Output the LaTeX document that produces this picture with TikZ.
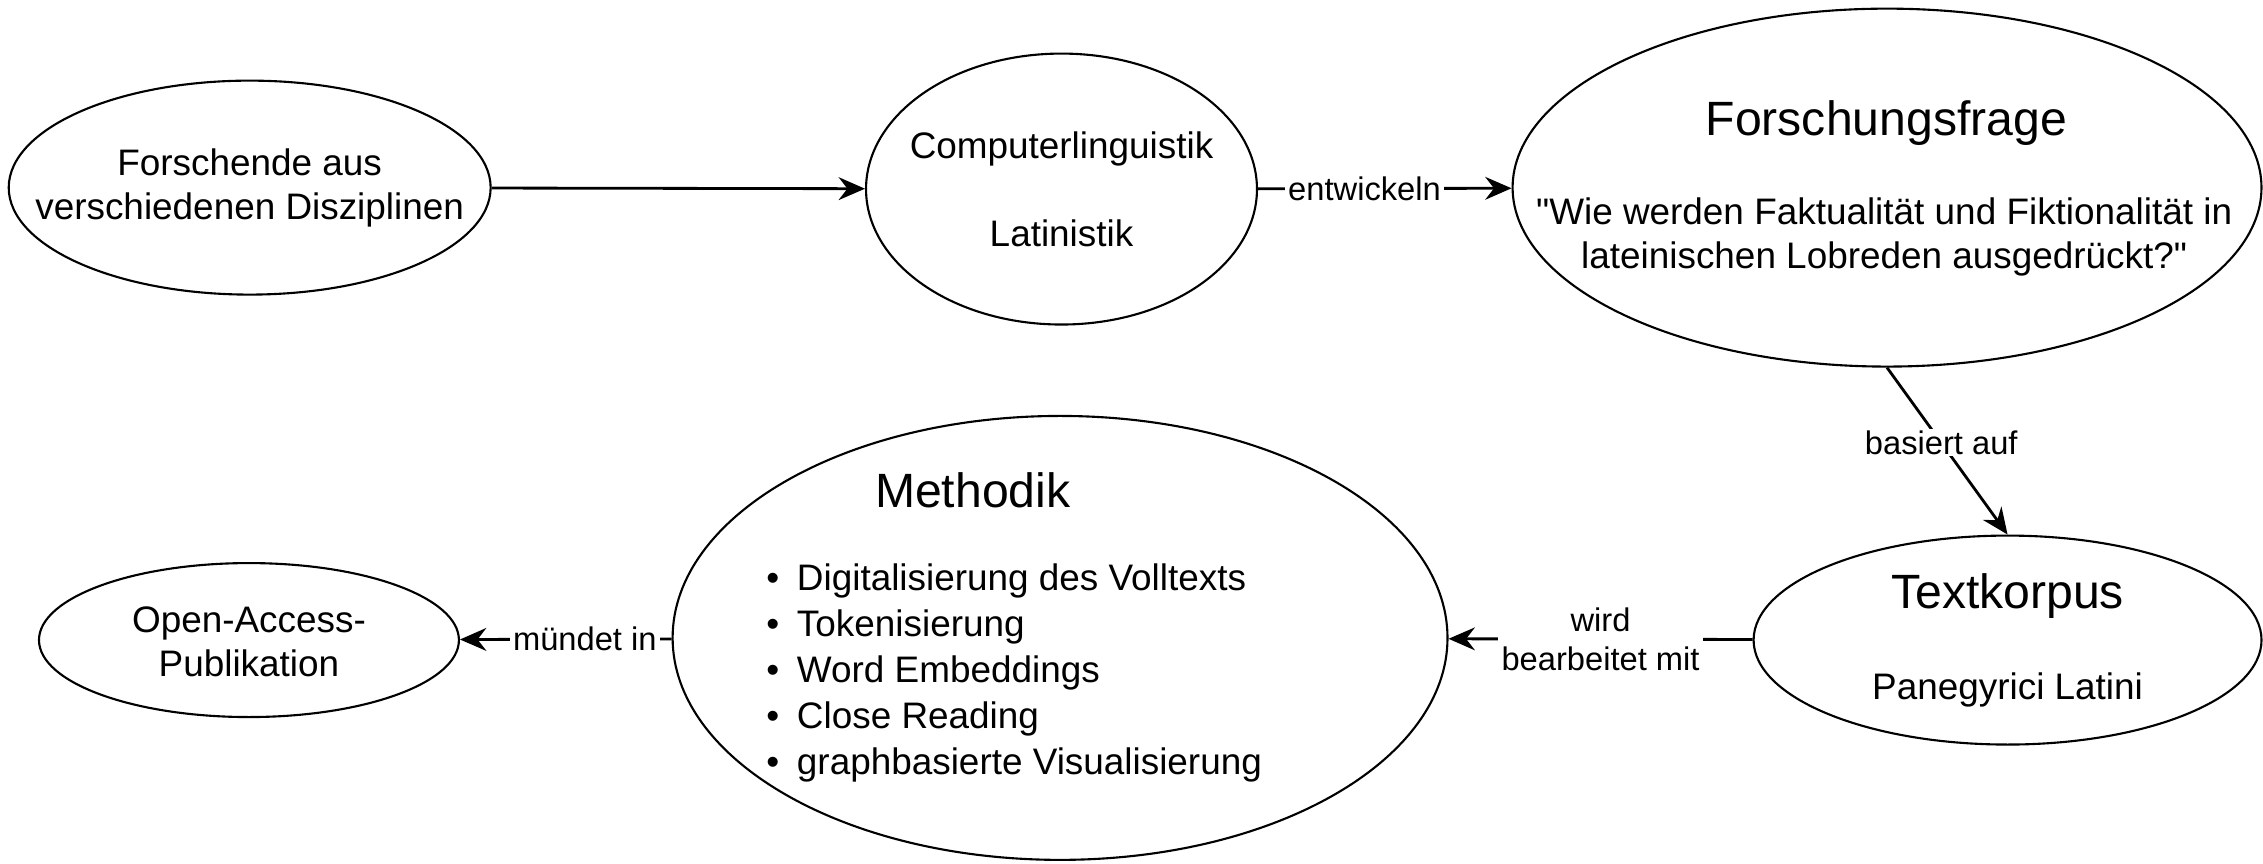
\documentclass[tikz,border=0pt]{standalone}
\usepackage{fontspec}
\setmainfont{Liberation Sans}
\newfontfamily\geradefont{Liberation Sans}[Ligatures=TeXOff]
\newcommand{\gq}{{\geradefont\symbol{34}}}
\usetikzlibrary{shapes.geometric,arrows.meta}

\begin{document}
\begin{tikzpicture}[x=0.01443cm, y=-0.01443cm,
  blase/.style={draw, ellipse, line width=0.6pt, inner sep=0pt},
  txt/.style={font=\fontsize{10.5}{12.5}\selectfont, align=center, inner sep=0pt},
  gross/.style={font=\fontsize{13.7}{16}\selectfont, inner sep=0pt},
  kante/.style={font=\fontsize{9.3}{11.1}\selectfont, fill=white, align=center, inner xsep=1pt, inner ysep=0.5pt},
  pfeil/.style={-{Stealth[length=7.5pt, width=6.5pt, inset=2.5pt]}, line width=0.8pt}]
\useasboundingbox (0,0) rectangle (1568,598);

\node[blase, minimum width=4.82cm, minimum height=2.14cm] (forschende) at (173,130) {};
\node[blase, minimum width=3.91cm, minimum height=2.71cm] (fachgebiete) at (735.5,131) {};
\node[blase, minimum width=7.49cm, minimum height=3.58cm] (frage) at (1307.5,130) {};
\node[blase, minimum width=5.08cm, minimum height=2.09cm] (korpus) at (1391,443.5) {};
\node[blase, minimum width=7.75cm, minimum height=4.44cm] (methodik) at (734.5,442) {};
\node[blase, minimum width=4.20cm, minimum height=1.54cm] (publikation) at (172.5,443.5) {};

\node[txt] (forschendetext) at (173,130) {Forschende aus\\verschiedenen Disziplinen};
\node[txt] (fachgebietetext) at (735.5,131) {Computerlinguistik\\[12.5pt]Latinistik};
\node[gross] (fragetitel) at (1307,85) {Forschungsfrage};
\node[txt] (fragetext) at (1305.5,164) {\gq Wie werden Faktualität und Fiktionalität in\\lateinischen Lobreden ausgedrückt?\gq};
\node[gross] (korpustitel) at (1391,413) {Textkorpus};
\node[txt] (korpustext) at (1391,478) {Panegyrici Latini};
\node[gross] (methodiktitel) at (674,340) {Methodik};
\node[txt, align=left, anchor=west, font=\fontsize{10.5}{13.1}\selectfont] (methodikliste) at (530.6,466)
  {\textbullet\hspace{5pt}Digitalisierung des Volltexts\\
   \textbullet\hspace{5pt}Tokenisierung\\
   \textbullet\hspace{5pt}Word Embeddings\\
   \textbullet\hspace{5pt}Close Reading\\
   \textbullet\hspace{5pt}graphbasierte Visualisierung};
\node[txt] (publikationtext) at (172.5,445) {Open-Access-\\Publikation};

\draw[pfeil] (forschende) -- (fachgebiete);
\draw[pfeil] (fachgebiete) -- node[kante, pos=0.42] (entwickeln) {entwickeln} (frage);
\draw[pfeil] (frage.south) -- node[kante, pos=0.45] (basiert) {basiert auf} (korpus.north);
\draw[pfeil] (korpus) -- node[kante] (bearbeitet) {wird\\bearbeitet mit} (methodik);
\draw[pfeil] (methodik) -- node[kante, pos=0.41] (muendet) {mündet in} (publikation);
\end{tikzpicture}
\end{document}
